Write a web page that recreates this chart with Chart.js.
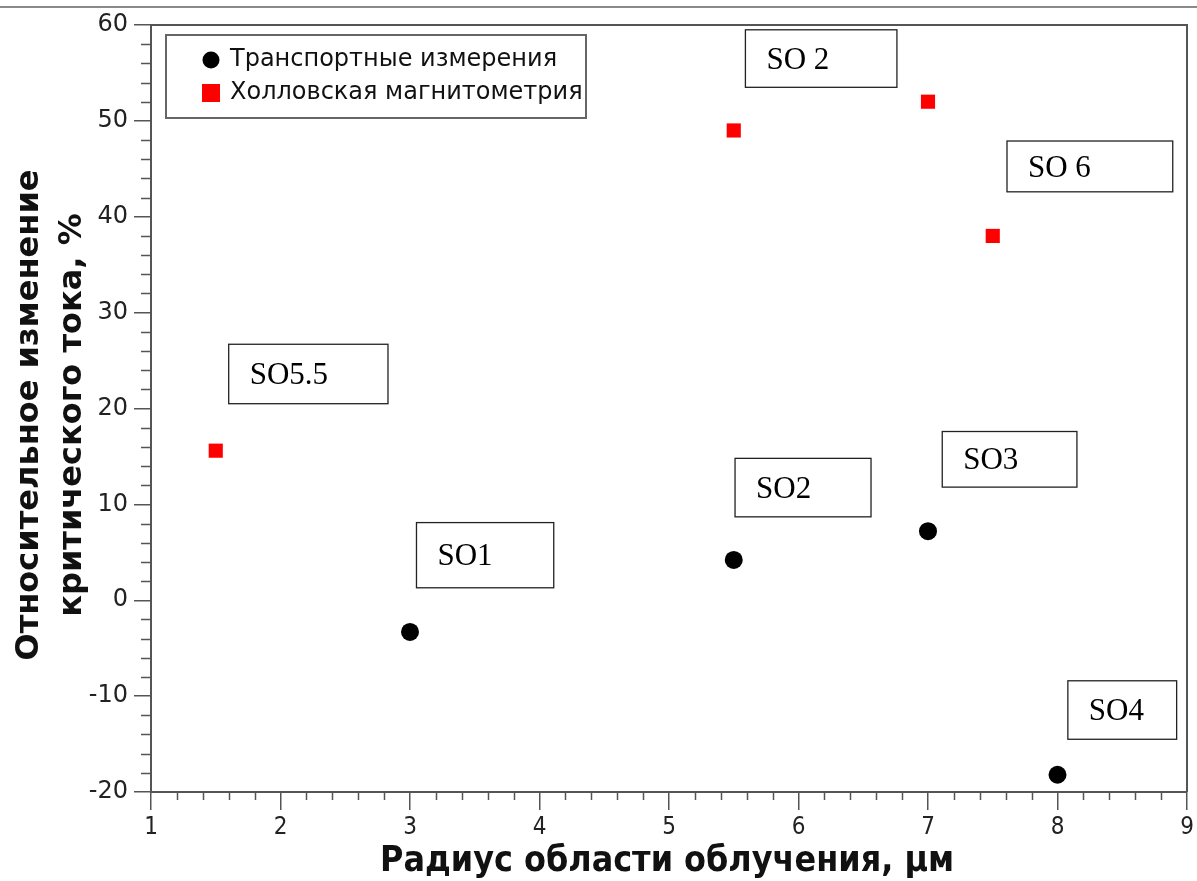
<!DOCTYPE html>
<html>
<head>
<meta charset="utf-8">
<script src="https://cdn.jsdelivr.net/npm/chart.js@4.4.1/dist/chart.umd.min.js"></script>
<style>
  html, body { margin: 0; padding: 0; background: #fff; }
  #wrap { position: relative; width: 1197px; height: 881px; }
  #topline { position: absolute; left: 0; top: 6px; width: 1197px; height: 2px; background: #8a8a8a; }
  canvas { position: absolute; left: 0; top: 0; }
</style>
</head>
<body>
<div id="wrap">
  <canvas id="chart" width="1197" height="881"></canvas>
  <div id="topline"></div>
</div>
<script>
// Irradiation radius, µm
const transportX = [3, 5.5, 7, 8];
// Relative change of critical current, %
const transportY = [-3.3, 4.2, 7.2, -18.2];

const hallX = [1.5, 5.5, 7, 7.5];
const hallY = [15.6, 49.0, 52.0, 38.0];

const seriesNames = ['Транспортные измерения', 'Холловская магнитометрия'];
const xTitle = 'Радиус области облучения, µм';
const yTitle = ['Относительное изменение', 'критического тока, %'];

const xTicks = [1, 2, 3, 4, 5, 6, 7, 8, 9];
const yTicks = [-20, -10, 0, 10, 20, 30, 40, 50, 60];

// Sample labels and the data-space rectangles of their boxes [x0, x1, yTop, yBottom]
const sampleLabels = ['SO5.5', 'SO1', 'SO 2', 'SO 6', 'SO2', 'SO3', 'SO4'];
const labelBoxes = [
  [1.60, 2.83, 26.7, 20.5],
  [3.05, 4.11, 8.1, 1.3],
  [5.59, 6.76, 59.5, 53.5],
  [7.61, 8.89, 47.9, 42.6],
  [5.51, 6.56, 14.8, 8.7],
  [7.11, 8.15, 17.6, 11.8],
  [8.08, 8.92, -8.4, -14.5]
];

const toPoints = (xs, ys) => xs.map((x, i) => ({ x: x, y: ys[i] }));

const AXIS_COLOR = '#555';

const decorations = {
  id: 'decorations',
  afterDraw(chart) {
    const ctx = chart.ctx;
    const a = chart.chartArea;
    const xs = chart.scales.x, ys = chart.scales.y;
    ctx.save();

    // frame: top and right edges
    ctx.strokeStyle = AXIS_COLOR;
    ctx.lineWidth = 2;
    ctx.beginPath();
    ctx.moveTo(a.left, a.top);
    ctx.lineTo(a.right, a.top);
    ctx.lineTo(a.right, a.bottom);
    ctx.stroke();

    // minor ticks
    ctx.lineWidth = 1.5;
    ctx.beginPath();
    for (let v = xs.min; v <= xs.max + 1e-9; v += 0.2) {
      if (Math.abs(v - Math.round(v)) < 1e-6) continue;
      const px = Math.round(xs.getPixelForValue(v)) + 0.5;
      ctx.moveTo(px, a.bottom);
      ctx.lineTo(px, a.bottom + 8);
    }
    for (let v = ys.min; v <= ys.max + 1e-9; v += 2) {
      if (Math.abs(v / 10 - Math.round(v / 10)) < 1e-6) continue;
      const py = Math.round(ys.getPixelForValue(v)) + 0.5;
      ctx.moveTo(a.left, py);
      ctx.lineTo(a.left - 10, py);
    }
    ctx.stroke();

    // sample label boxes
    ctx.font = '31px "Liberation Serif", serif';
    ctx.textBaseline = 'middle';
    ctx.textAlign = 'left';
    sampleLabels.forEach((txt, i) => {
      const b = labelBoxes[i];
      const x0 = xs.getPixelForValue(b[0]), x1 = xs.getPixelForValue(b[1]);
      const y0 = ys.getPixelForValue(b[2]), y1 = ys.getPixelForValue(b[3]);
      ctx.fillStyle = '#fff';
      ctx.fillRect(x0, y0, x1 - x0, y1 - y0);
      ctx.strokeStyle = '#222';
      ctx.lineWidth = 1.3;
      ctx.strokeRect(x0, y0, x1 - x0, y1 - y0);
      ctx.fillStyle = '#000';
      ctx.fillText(txt, x0 + 21, (y0 + y1) / 2 + 2);
    });

    // legend
    const lx = a.left + 15, ly = a.top + 10, lw = 420, lh = 83;
    ctx.fillStyle = '#fff';
    ctx.fillRect(lx, ly, lw, lh);
    ctx.strokeStyle = '#666';
    ctx.lineWidth = 2;
    ctx.strokeRect(lx, ly, lw, lh);
    ctx.font = '24px "DejaVu Sans", sans-serif';
    ctx.textBaseline = 'middle';
    const rows = [ly + 25, ly + 58];
    ctx.fillStyle = '#000';
    ctx.beginPath();
    ctx.arc(lx + 45, rows[0], 8.5, 0, Math.PI * 2);
    ctx.fill();
    ctx.fillStyle = '#f00';
    ctx.fillRect(lx + 45 - 9, rows[1] - 9, 18, 18);
    ctx.fillStyle = '#111';
    ctx.fillText(seriesNames[0], lx + 64, rows[0]);
    ctx.fillText(seriesNames[1], lx + 64, rows[1]);

    // axis titles
    ctx.fillStyle = '#111';
    ctx.textAlign = 'center';
    ctx.textBaseline = 'middle';
    ctx.font = 'bold 35.5px "DejaVu Sans Condensed", "DejaVu Sans", sans-serif';
    ctx.fillText(xTitle, 667, 862);
    ctx.save();
    ctx.translate(30, 415);
    ctx.rotate(-Math.PI / 2);
    ctx.font = 'bold 32px "DejaVu Sans", sans-serif';
    ctx.fillText(yTitle[0], 0, 0);
    ctx.fillText(yTitle[1], 0, 43);
    ctx.restore();

    ctx.restore();
  }
};

new Chart(document.getElementById('chart'), {
  type: 'scatter',
  data: {
    datasets: [
      {
        label: seriesNames[0],
        data: toPoints(transportX, transportY),
        pointStyle: 'circle',
        pointRadius: 9,
        pointHoverRadius: 9,
        backgroundColor: '#000',
        borderColor: '#000',
        borderWidth: 0
      },
      {
        label: seriesNames[1],
        data: toPoints(hallX, hallY),
        pointStyle: 'rect',
        pointRadius: 10,
        pointHoverRadius: 10,
        backgroundColor: '#f00',
        borderColor: '#f00',
        borderWidth: 0
      }
    ]
  },
  options: {
    responsive: false,
    animation: false,
    devicePixelRatio: 1,
    layout: { padding: { top: 25, right: 2, left: 0, bottom: 0 } },
    plugins: {
      legend: { display: false },
      tooltip: { enabled: false }
    },
    scales: {
      x: {
        type: 'linear',
        min: 1,
        max: 9,
        afterFit(scale) { scale.height = 89; },
        afterBuildTicks(scale) { scale.ticks = xTicks.map(v => ({ value: v })); },
        border: { display: true, color: AXIS_COLOR, width: 2 },
        grid: { drawOnChartArea: false, drawTicks: true, tickLength: 18, color: AXIS_COLOR, lineWidth: 1.5 },
        ticks: {
          padding: 3,
          color: '#222',
          font: { family: '"DejaVu Sans Condensed", "DejaVu Sans", sans-serif', size: 24 }
        }
      },
      y: {
        type: 'linear',
        min: -20,
        max: 60,
        afterFit(scale) { scale.width = 151; },
        afterBuildTicks(scale) { scale.ticks = yTicks.map(v => ({ value: v })); },
        border: { display: true, color: AXIS_COLOR, width: 2 },
        grid: { drawOnChartArea: false, drawTicks: true, tickLength: 17, color: AXIS_COLOR, lineWidth: 1.5 },
        ticks: {
          padding: 6,
          color: '#222',
          font: { family: '"DejaVu Sans", sans-serif', size: 24 }
        }
      }
    }
  },
  plugins: [decorations]
});
</script>
</body>
</html>
